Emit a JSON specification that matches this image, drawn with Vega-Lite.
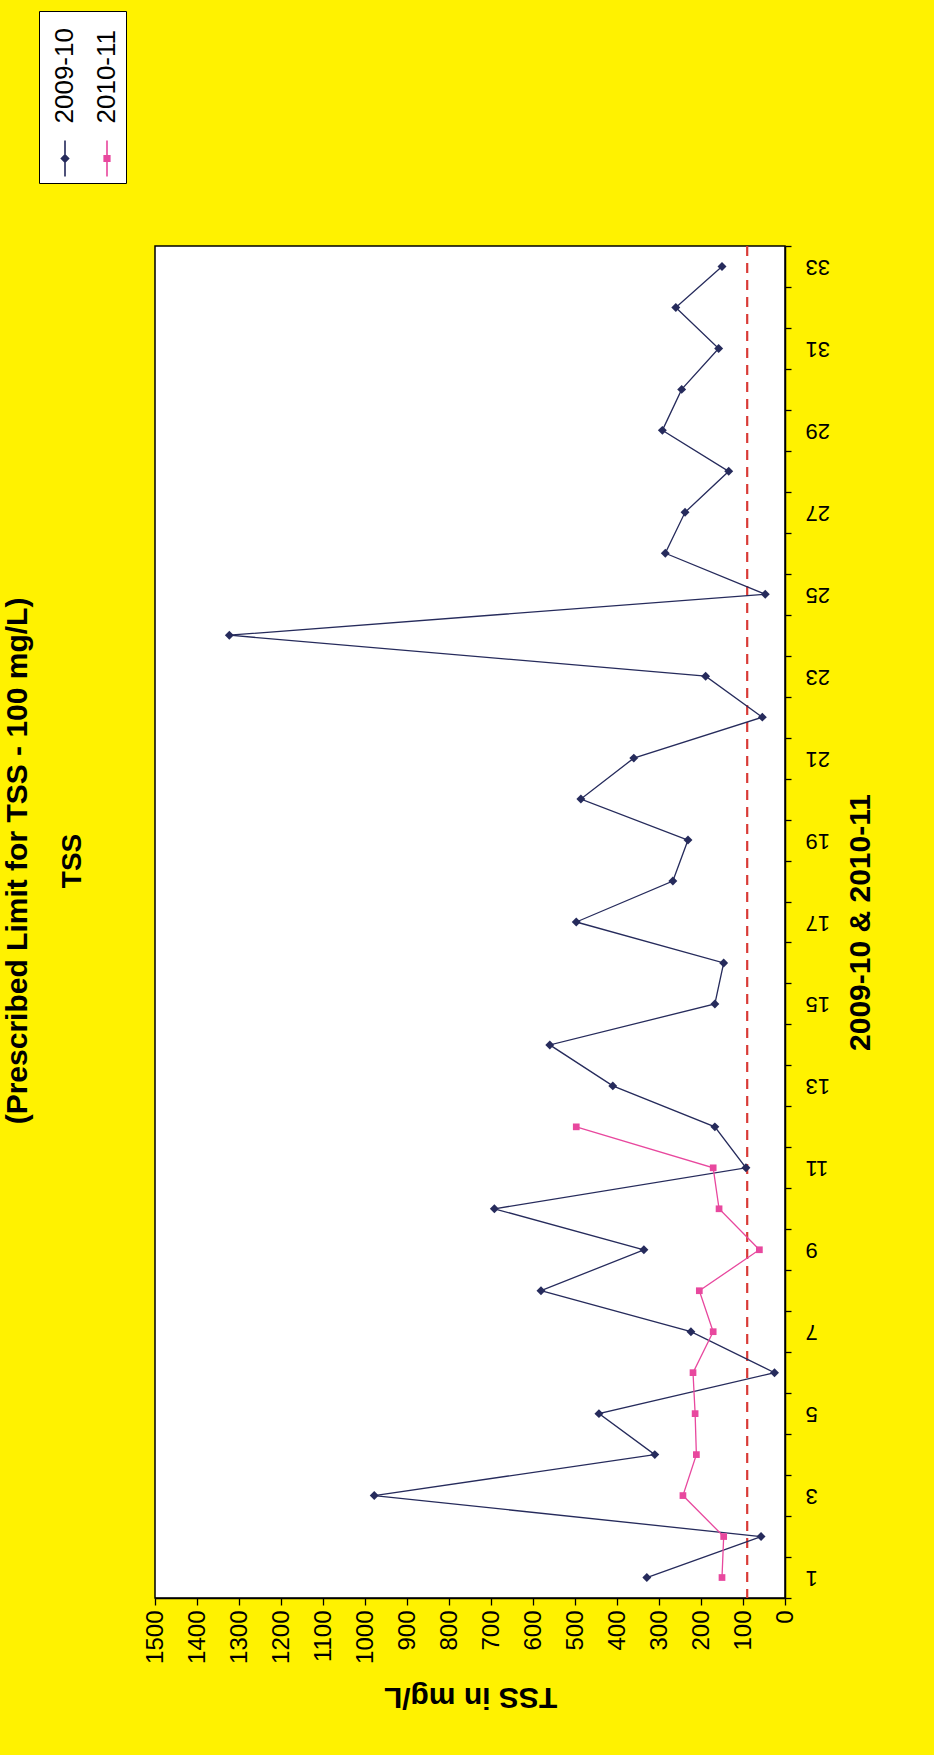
{
  "$schema": "https://vega.github.io/schema/vega-lite/v6.json",
  "autosize": {"type": "none"},
  "width": 630,
  "height": 1352,
  "padding": {"left": 155, "top": 246, "right": 149, "bottom": 157},
  "background": "#FFF200",
  "title": {
    "text": "(Prescribed Limit for TSS - 100 mg/L)",
    "subtitle": "TSS",
    "orient": "left",
    "anchor": "middle",
    "frame": "bounds",
    "offset": -48,
    "font": "Liberation Sans",
    "fontSize": 30,
    "fontWeight": "bold",
    "color": "black",
    "subtitleFont": "Liberation Sans",
    "subtitleFontSize": 28,
    "subtitleFontWeight": "bold",
    "subtitleColor": "black",
    "subtitlePadding": 26
  },
  "datasets": {
    "tss": [
      {"cat": 1, "series": "2009-10", "tss": 329},
      {"cat": 2, "series": "2009-10", "tss": 57},
      {"cat": 3, "series": "2009-10", "tss": 978},
      {"cat": 4, "series": "2009-10", "tss": 310},
      {"cat": 5, "series": "2009-10", "tss": 443},
      {"cat": 6, "series": "2009-10", "tss": 25},
      {"cat": 7, "series": "2009-10", "tss": 224},
      {"cat": 8, "series": "2009-10", "tss": 581},
      {"cat": 9, "series": "2009-10", "tss": 336},
      {"cat": 10, "series": "2009-10", "tss": 692},
      {"cat": 11, "series": "2009-10", "tss": 93},
      {"cat": 12, "series": "2009-10", "tss": 167},
      {"cat": 13, "series": "2009-10", "tss": 410},
      {"cat": 14, "series": "2009-10", "tss": 560},
      {"cat": 15, "series": "2009-10", "tss": 167},
      {"cat": 16, "series": "2009-10", "tss": 146},
      {"cat": 17, "series": "2009-10", "tss": 497},
      {"cat": 18, "series": "2009-10", "tss": 267},
      {"cat": 19, "series": "2009-10", "tss": 231},
      {"cat": 20, "series": "2009-10", "tss": 486},
      {"cat": 21, "series": "2009-10", "tss": 360},
      {"cat": 22, "series": "2009-10", "tss": 54},
      {"cat": 23, "series": "2009-10", "tss": 189},
      {"cat": 24, "series": "2009-10", "tss": 1323},
      {"cat": 25, "series": "2009-10", "tss": 47},
      {"cat": 26, "series": "2009-10", "tss": 285},
      {"cat": 27, "series": "2009-10", "tss": 238},
      {"cat": 28, "series": "2009-10", "tss": 134},
      {"cat": 29, "series": "2009-10", "tss": 292},
      {"cat": 30, "series": "2009-10", "tss": 246},
      {"cat": 31, "series": "2009-10", "tss": 158},
      {"cat": 32, "series": "2009-10", "tss": 260},
      {"cat": 33, "series": "2009-10", "tss": 150},
      {"cat": 1, "series": "2010-11", "tss": 150},
      {"cat": 2, "series": "2010-11", "tss": 146},
      {"cat": 3, "series": "2010-11", "tss": 243},
      {"cat": 4, "series": "2010-11", "tss": 211},
      {"cat": 5, "series": "2010-11", "tss": 214},
      {"cat": 6, "series": "2010-11", "tss": 219},
      {"cat": 7, "series": "2010-11", "tss": 171},
      {"cat": 8, "series": "2010-11", "tss": 204},
      {"cat": 9, "series": "2010-11", "tss": 61},
      {"cat": 10, "series": "2010-11", "tss": 157},
      {"cat": 11, "series": "2010-11", "tss": 171},
      {"cat": 12, "series": "2010-11", "tss": 497}
    ],
    "limit": [{"limit": 90}]
  },
  "data": {"name": "tss"},
  "encoding": {
    "x": {
      "field": "tss",
      "type": "quantitative",
      "scale": {"domain": [0, 1500], "reverse": true, "nice": false, "zero": false},
      "axis": {
        "orient": "bottom",
        "title": "TSS in mg/L",
        "values": [0, 100, 200, 300, 400, 500, 600, 700, 800, 900, 1000, 1100, 1200, 1300, 1400, 1500],
        "format": "d",
        "labelAngle": 270,
        "labelAlign": "right",
        "labelBaseline": "middle",
        "labelFontSize": 24,
        "labelPadding": 5,
        "tickSize": 7,
        "titleAngle": 180,
        "titleBaseline": "bottom",
        "titleFontSize": 30,
        "titlePadding": 18
      }
    },
    "y": {
      "field": "cat",
      "type": "quantitative",
      "scale": {"domain": [0.5, 33.5], "nice": false, "zero": false},
      "axis": {
        "orient": "right",
        "title": "2009-10 & 2010-11",
        "values": [0.5, 1, 1.5, 2.5, 3, 3.5, 4.5, 5, 5.5, 6.5, 7, 7.5, 8.5, 9, 9.5, 10.5, 11, 11.5, 12.5, 13, 13.5, 14.5, 15, 15.5, 16.5, 17, 17.5, 18.5, 19, 19.5, 20.5, 21, 21.5, 22.5, 23, 23.5, 24.5, 25, 25.5, 26.5, 27, 27.5, 28.5, 29, 29.5, 30.5, 31, 31.5, 32.5, 33, 33.5],
        "labelExpr": "datum.value % 2 == 1 ? format(datum.value, 'd') : ''",
        "tickOpacity": {"condition": {"test": "datum.value % 1 == 0", "value": 0}, "value": 1},
        "labelAngle": 180,
        "labelAlign": "right",
        "labelBaseline": "middle",
        "labelFontSize": 22,
        "labelPadding": 14,
        "tickSize": 6,
        "titleAngle": 270,
        "titleBaseline": "top",
        "titleFontSize": 30,
        "titlePadding": 16
      }
    }
  },
  "layer": [
    {
      "data": {"name": "limit"},
      "mark": {"type": "rule", "color": "#D93A36", "strokeWidth": 2.2, "strokeDash": [10, 7]},
      "encoding": {"x": {"field": "limit", "type": "quantitative"}, "y": null}
    },
    {
      "mark": {"type": "line", "strokeWidth": 1.3},
      "encoding": {
        "color": {
          "field": "series",
          "type": "nominal",
          "scale": {"domain": ["2009-10", "2010-11"], "range": ["#262B5C", "#E8489E"]},
          "legend": {
            "orient": "none",
            "legendX": -116,
            "legendY": -235,
            "direction": "horizontal",
            "title": null,
            "strokeColor": "black",
            "fillColor": "white",
            "padding": 6,
            "columnPadding": 9,
            "labelFont": "Liberation Sans",
            "labelFontSize": 26,
            "labelColor": "black",
            "symbolSize": 1300,
            "labelOffset": 0,
            "encode": {
              "symbols": {
                "update": {
                  "shape": {"signal": "datum.value === '2009-10' ? 'M-0.045,-1L0.045,-1L0.045,1L-0.045,1Z M-0.26,0L0,-0.26L0.26,0L0,0.26Z' : 'M-0.045,-1L0.045,-1L0.045,1L-0.045,1Z M-0.2,-0.2L0.2,-0.2L0.2,0.2L-0.2,0.2Z'"},
                  "size": {"value": 1300},
                  "x": {"value": 20},
                  "y": {"value": 141},
                  "fill": {"scale": "color", "field": "value"},
                  "fillOpacity": {"value": 1},
                  "strokeWidth": {"value": 0},
                  "opacity": {"value": 1}
                }
              },
              "labels": {
                "update": {
                  "x": {"value": 20},
                  "y": {"value": 106},
                  "angle": {"value": 270},
                  "align": {"value": "left"},
                  "baseline": {"value": "middle"}
                }
              }
            }
          }
        },
        "order": {"field": "cat", "type": "quantitative"}
      }
    },
    {
      "transform": [{"filter": "datum.series === '2009-10'"}],
      "mark": {"type": "point", "shape": "diamond", "filled": true, "size": 80, "opacity": 1},
      "encoding": {"color": {"field": "series", "type": "nominal"}}
    },
    {
      "transform": [{"filter": "datum.series === '2010-11'"}],
      "mark": {"type": "point", "shape": "square", "filled": true, "size": 45, "opacity": 1},
      "encoding": {"color": {"field": "series", "type": "nominal"}}
    }
  ],
  "config": {
    "font": "Liberation Sans",
    "view": {"fill": "white", "stroke": "black", "strokeWidth": 1.5},
    "axis": {
      "grid": false,
      "domainColor": "black",
      "domainWidth": 1.5,
      "tickColor": "black",
      "tickWidth": 1.3,
      "labelColor": "black",
      "labelFont": "Liberation Sans",
      "titleFont": "Liberation Sans",
      "titleFontWeight": "bold",
      "titleColor": "black",
      "labelOverlap": false,
      "labelFlush": false
    }
  }
}
